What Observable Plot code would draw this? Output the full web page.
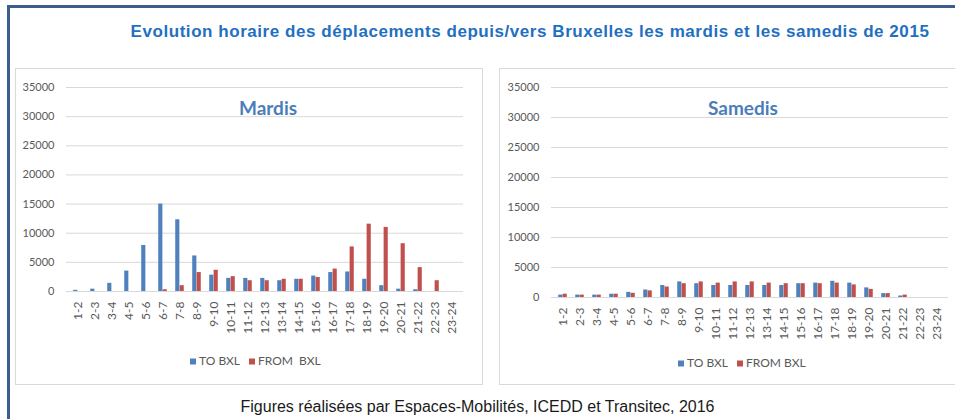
<!DOCTYPE html>
<html>
<head>
<meta charset="utf-8">
<script src="https://cdn.jsdelivr.net/npm/d3@7"></script>
<script src="https://cdn.jsdelivr.net/npm/@observablehq/plot@0.6"></script>
<style>
  html, body { margin: 0; padding: 0; background: #fff; width: 955px; height: 419px; overflow: hidden; }
  #frame { position: absolute; left: 7px; top: 5px; width: 1000px; height: 500px;
           border-left: 3px solid #3b5e8c; border-top: 3px solid #3b5e8c; }
  #title { position: absolute; left: 0; width: 1060px; top: 22px; text-align: center;
           font-family: "Liberation Sans", Arial, sans-serif; font-weight: bold; font-size: 17px;
           color: #1f70c1; letter-spacing: 0.55px; white-space: nowrap; }
  .panel { position: absolute; top: 68px; height: 315px; border: 1px solid #d9d9d9; background: #fff; }
  .ptitle { position: absolute; font-family: Lato, sans-serif; font-weight: bold; font-size: 19px;
            color: #4a7ebb; transform: translate(-50%, -50%); white-space: nowrap; }
  .legend { position: absolute; font-family: Lato, sans-serif; font-size: 12px; color: #595959;
            white-space: nowrap; transform: translateY(-50%); }
  .legend span.sw { display: inline-block; width: 6px; height: 6px; margin-right: 3px; vertical-align: 0px; }
  .legend span.item { margin-right: 9px; }
  #caption { position: absolute; left: 0; width: 955px; top: 398px; text-align: center;
             font-family: "Liberation Sans", Arial, sans-serif; font-size: 16px; color: #1a1a1a; }
  .panel svg { position: absolute; left: 0; top: 0; }
</style>
</head>
<body>
<div id="frame"></div>
<div id="title">Evolution horaire des déplacements depuis/vers Bruxelles les mardis et les samedis de 2015</div>
<div class="panel" id="pmardis" style="left:15px; width:466px;"></div>
<div class="panel" id="psamedis" style="left:499px; width:470px;"></div>
<div id="caption">Figures réalisées par Espaces-Mobilités, ICEDD et Transitec, 2016</div>
<script>
const hours = ["1-2","2-3","3-4","4-5","5-6","6-7","7-8","8-9","9-10","10-11","11-12","12-13",
  "13-14","14-15","15-16","16-17","17-18","18-19","19-20","20-21","21-22","22-23","23-24"];
const seriesNames = ["TO BXL", "FROM BXL"];
const seriesColors = ["#4f81bd", "#c0504d"];

const mardisTo   = [200, 400, 1400, 3500, 7900, 15000, 12300, 6100, 2800, 2250, 2250, 2250,
                    1850, 2100, 2650, 3250, 3350, 2100, 1000, 400, 300, 0, 0];
const mardisFrom = [0, 0, 0, 0, 0, 300, 1000, 3250, 3650, 2550, 1850, 1850,
                    2100, 2100, 2400, 3850, 7650, 11550, 11000, 8200, 4100, 1850, 0];
const samedisTo   = [400, 400, 400, 550, 850, 1250, 2000, 2600, 2300, 2000, 2000, 2000,
                     2000, 2000, 2300, 2400, 2700, 2400, 1600, 650, 250, 0, 0];
const samedisFrom = [550, 400, 400, 550, 700, 1100, 1750, 2300, 2600, 2400, 2600, 2600,
                     2400, 2300, 2300, 2300, 2400, 2100, 1350, 650, 400, 0, 0];
const yTicks = [0, 5000, 10000, 15000, 20000, 25000, 30000, 35000];

function chart({to, from, width, height, marginTop, marginBottom, marginLeft, marginRight}) {
  const step = (width - marginLeft - marginRight) / hours.length;
  const bw = 4.4;
  const half = step / 2;
  const rows = (vals, s) => hours.map((h, i) => ({hour: h, series: s, value: vals[i]}));
  const svg = Plot.plot({
    width, height, marginTop, marginBottom, marginLeft, marginRight,
    style: {fontFamily: "Lato, sans-serif", fontSize: "11px", color: "#595959", background: "transparent", overflow: "visible"},
    x: {domain: hours, padding: 0, tickRotate: -90, tickSize: 0, tickPadding: 10, label: null},
    y: {domain: [0, 35000], ticks: yTicks, tickFormat: d => String(d), tickSize: 0, tickPadding: 12, label: null},
    color: {domain: seriesNames, range: seriesColors},
    marks: [
      Plot.ruleY(yTicks, {stroke: "#d9d9d9", strokeWidth: 1}),
      Plot.barY(rows(to, seriesNames[0]), {x: "hour", y: "value", fill: "series", insetLeft: half - bw, insetRight: half}),
      Plot.barY(rows(from, seriesNames[1]), {x: "hour", y: "value", fill: "series", insetLeft: half, insetRight: half - bw})
    ]
  });
  svg.querySelectorAll("g[aria-label^='x-axis']").forEach(g => g.setAttribute("font-size", "12px"));
  return svg;
}

function legend(panel, left, top, labels) {
  const d = document.createElement("div");
  d.className = "legend";
  d.style.left = left + "px";
  d.style.top = top + "px";
  d.innerHTML = labels.map((l, i) =>
    `<span class="item"><span class="sw" style="background:${seriesColors[i]}"></span>${l}</span>`).join("");
  panel.appendChild(d);
}
function ptitle(panel, text, cx, cy) {
  const d = document.createElement("div");
  d.className = "ptitle";
  d.textContent = text;
  d.style.left = cx + "px";
  d.style.top = cy + "px";
  panel.appendChild(d);
}

const pm = document.getElementById("pmardis");
pm.appendChild(chart({to: mardisTo, from: mardisFrom, width: 466, height: 290,
  marginTop: 18, marginBottom: 68, marginLeft: 50, marginRight: 19}));
ptitle(pm, "Mardis", 252, 38);
legend(pm, 174, 291, ["TO BXL", "FROM\u00a0 BXL"]);

const ps = document.getElementById("psamedis");
ps.appendChild(chart({to: samedisTo, from: samedisFrom, width: 467, height: 290,
  marginTop: 18, marginBottom: 62, marginLeft: 51, marginRight: 19}));
ptitle(ps, "Samedis", 243, 38);
legend(ps, 178, 293, ["TO BXL", "FROM BXL"]);
</script>
</body>
</html>
